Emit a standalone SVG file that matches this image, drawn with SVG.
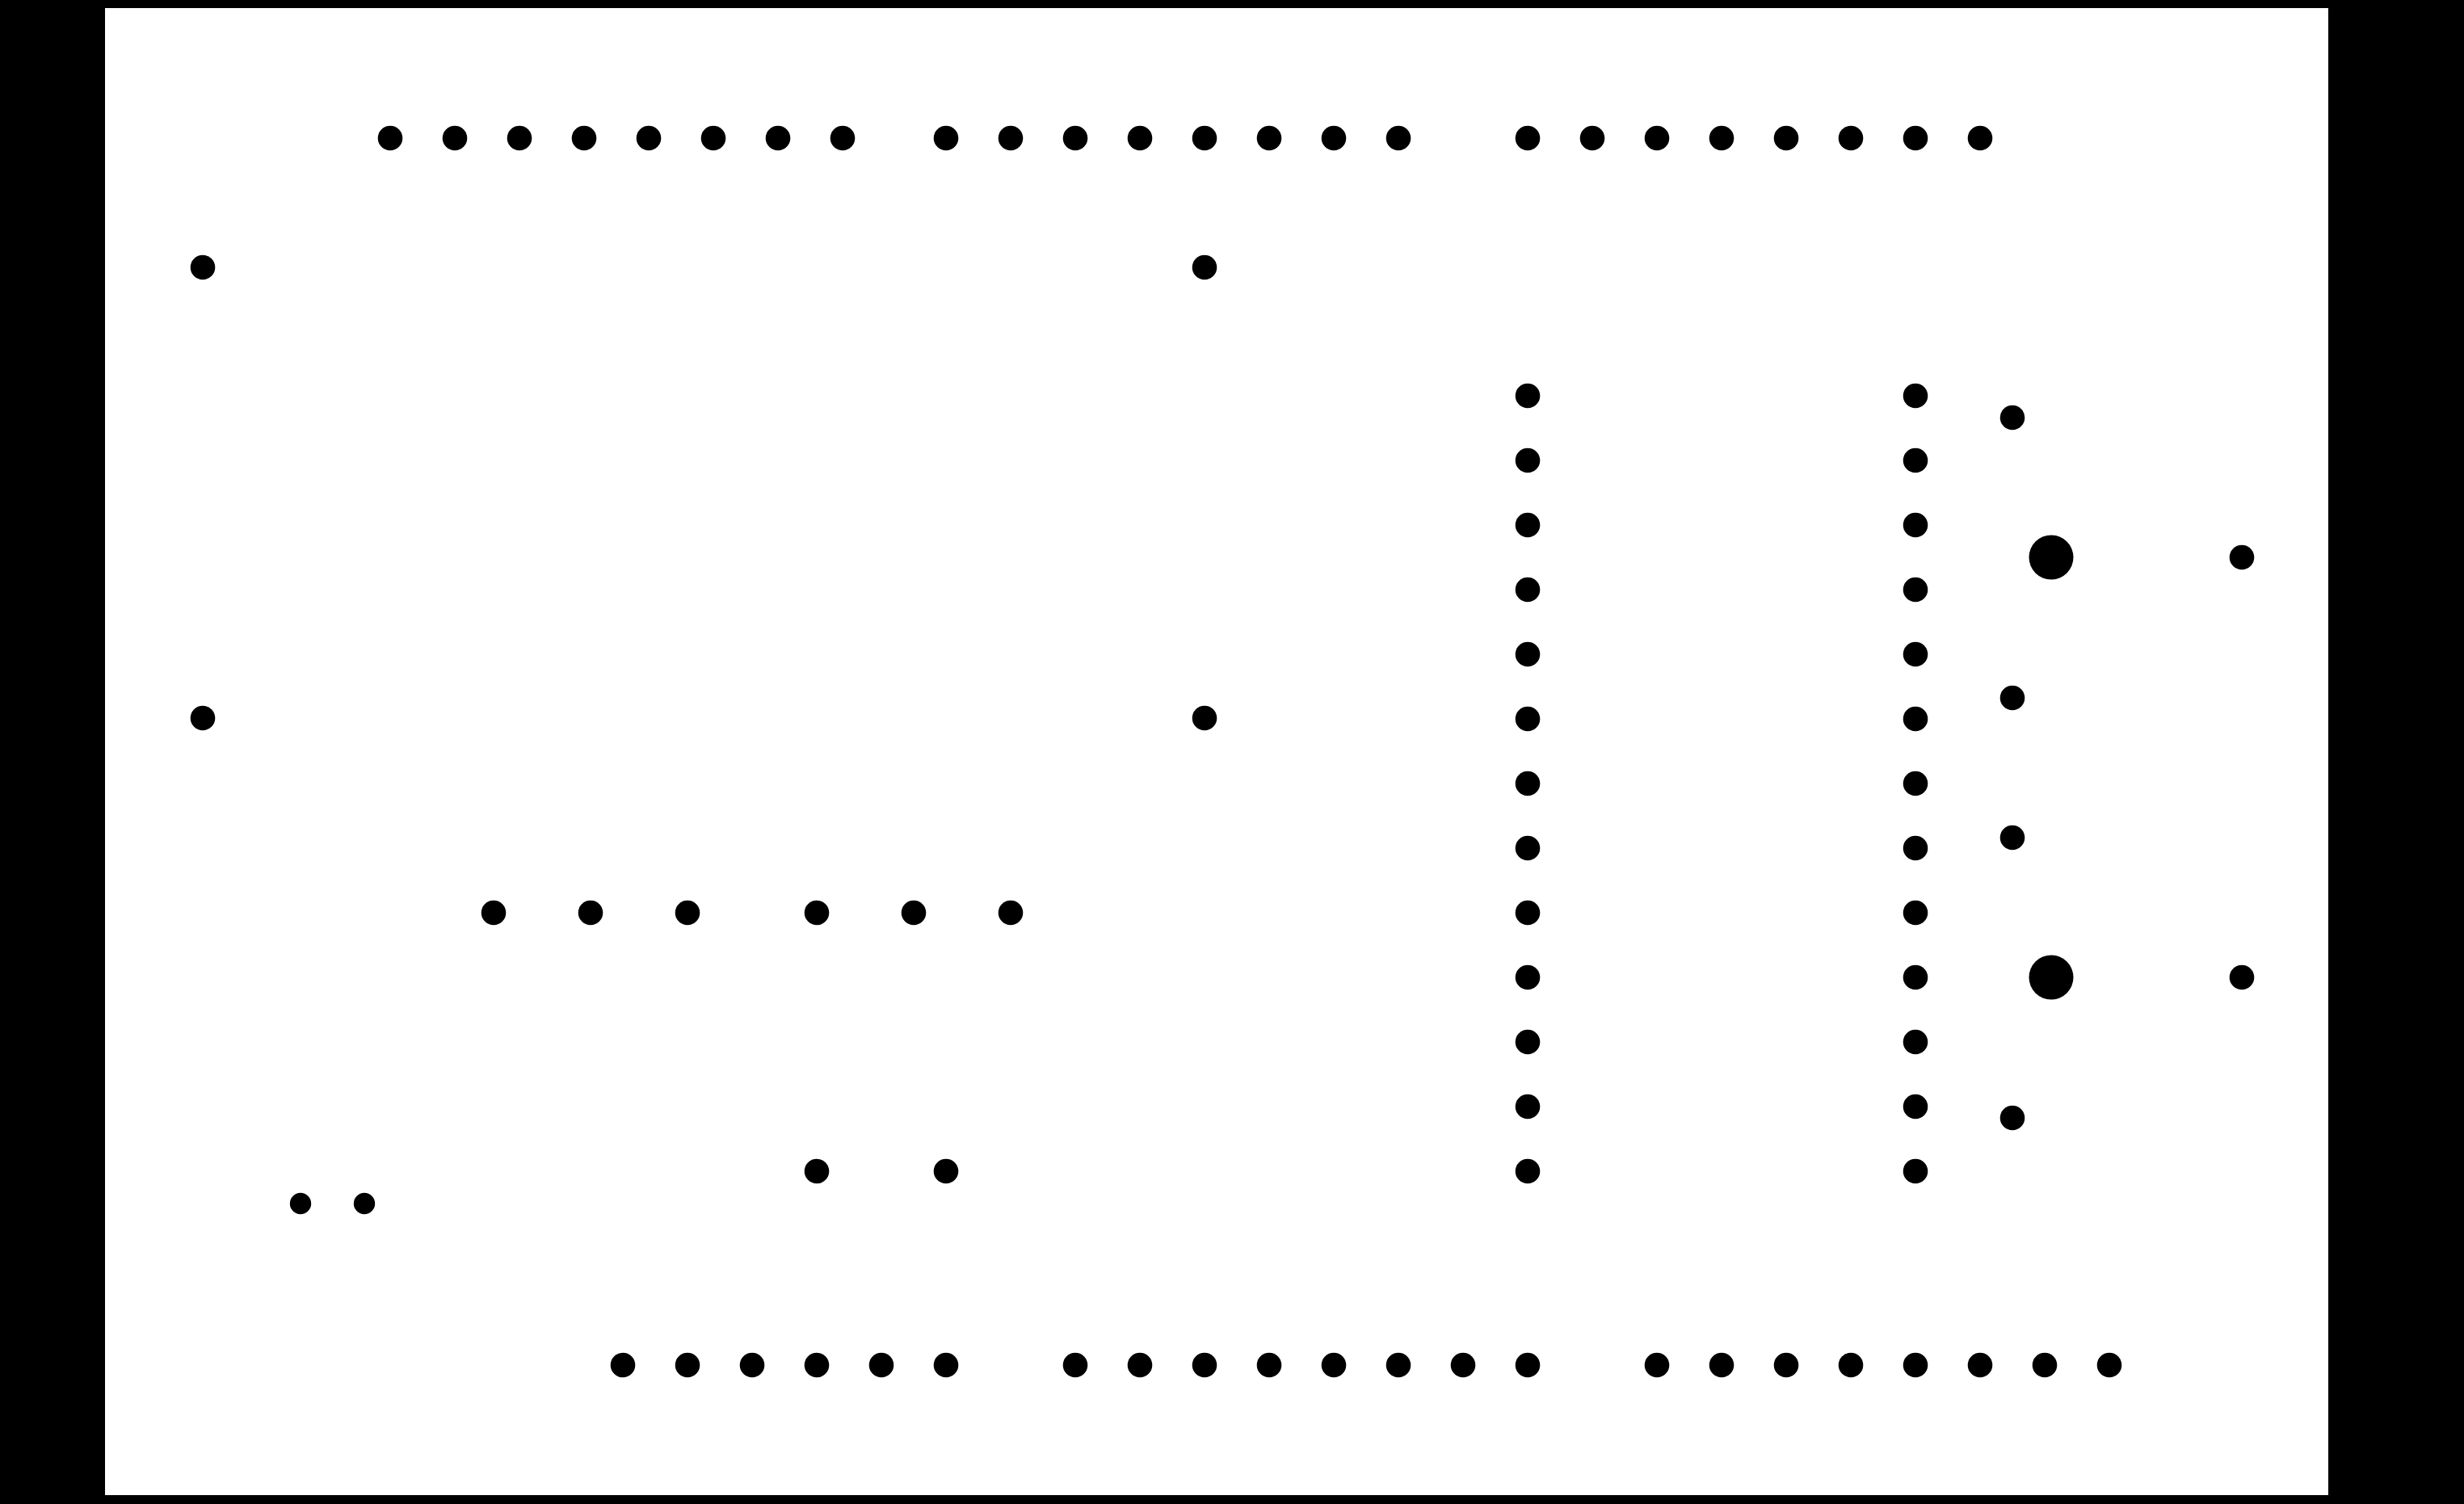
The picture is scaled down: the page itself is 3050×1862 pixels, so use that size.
<svg xmlns="http://www.w3.org/2000/svg" width="3050" height="1862" viewBox="0 0 3050 1862">
<style>
.d{fill:#000}
.s{fill:#000}
.b{fill:#000}
</style>
<defs>
<circle id="dot" r="15.3" class="d"/>
<circle id="sdot" r="13.2" class="s"/>
<circle id="bdot" r="27.5" class="b"/>
</defs>
<rect x="0" y="0" width="3050" height="1862" fill="#000"/>
<rect x="130" y="10" width="2752" height="1841" fill="#fff"/>
<g id="connectors"></g>
<g id="top-row-1">
<use href="#dot" x="483" y="171"/><use href="#dot" x="563" y="171"/><use href="#dot" x="643" y="171"/><use href="#dot" x="723" y="171"/><use href="#dot" x="803" y="171"/><use href="#dot" x="883" y="171"/><use href="#dot" x="963" y="171"/><use href="#dot" x="1043" y="171"/>
</g>
<g id="top-row-2">
<use href="#dot" x="1171" y="171"/><use href="#dot" x="1251" y="171"/><use href="#dot" x="1331" y="171"/><use href="#dot" x="1411" y="171"/><use href="#dot" x="1491" y="171"/><use href="#dot" x="1571" y="171"/><use href="#dot" x="1651" y="171"/><use href="#dot" x="1731" y="171"/>
</g>
<g id="top-row-3">
<use href="#dot" x="1891" y="171"/><use href="#dot" x="1971" y="171"/><use href="#dot" x="2051" y="171"/><use href="#dot" x="2131" y="171"/><use href="#dot" x="2211" y="171"/><use href="#dot" x="2291" y="171"/><use href="#dot" x="2371" y="171"/><use href="#dot" x="2451" y="171"/>
</g>
<g id="corners">
<use href="#dot" x="251" y="331"/><use href="#dot" x="1491" y="331"/><use href="#dot" x="251" y="889"/><use href="#dot" x="1491" y="889"/>
</g>
<g id="middle-row">
<use href="#dot" x="611" y="1130"/><use href="#dot" x="731" y="1130"/><use href="#dot" x="851" y="1130"/><use href="#dot" x="1011" y="1130"/><use href="#dot" x="1131" y="1130"/><use href="#dot" x="1251" y="1130"/>
</g>
<g id="pair-1">
<use href="#dot" x="1011" y="1450"/><use href="#dot" x="1171" y="1450"/>
</g>
<g id="pair-2">
<use href="#sdot" x="372" y="1490"/><use href="#sdot" x="451" y="1490"/>
</g>
<g id="bottom-row-1">
<use href="#dot" x="771" y="1690"/><use href="#dot" x="851" y="1690"/><use href="#dot" x="931" y="1690"/><use href="#dot" x="1011" y="1690"/><use href="#dot" x="1091" y="1690"/><use href="#dot" x="1171" y="1690"/>
</g>
<g id="bottom-row-2">
<use href="#dot" x="1331" y="1690"/><use href="#dot" x="1411" y="1690"/><use href="#dot" x="1491" y="1690"/><use href="#dot" x="1571" y="1690"/><use href="#dot" x="1651" y="1690"/><use href="#dot" x="1731" y="1690"/><use href="#dot" x="1811" y="1690"/><use href="#dot" x="1891" y="1690"/>
</g>
<g id="bottom-row-3">
<use href="#dot" x="2051" y="1690"/><use href="#dot" x="2131" y="1690"/><use href="#dot" x="2211" y="1690"/><use href="#dot" x="2291" y="1690"/><use href="#dot" x="2371" y="1690"/><use href="#dot" x="2451" y="1690"/><use href="#dot" x="2531" y="1690"/><use href="#dot" x="2611" y="1690"/>
</g>
<g id="column-left">
<use href="#dot" x="1891" y="490"/><use href="#dot" x="1891" y="570"/><use href="#dot" x="1891" y="650"/><use href="#dot" x="1891" y="730"/><use href="#dot" x="1891" y="810"/><use href="#dot" x="1891" y="890"/><use href="#dot" x="1891" y="970"/><use href="#dot" x="1891" y="1050"/><use href="#dot" x="1891" y="1130"/><use href="#dot" x="1891" y="1210"/><use href="#dot" x="1891" y="1290"/><use href="#dot" x="1891" y="1370"/><use href="#dot" x="1891" y="1450"/>
</g>
<g id="column-right">
<use href="#dot" x="2371" y="490"/><use href="#dot" x="2371" y="570"/><use href="#dot" x="2371" y="650"/><use href="#dot" x="2371" y="730"/><use href="#dot" x="2371" y="810"/><use href="#dot" x="2371" y="890"/><use href="#dot" x="2371" y="970"/><use href="#dot" x="2371" y="1050"/><use href="#dot" x="2371" y="1130"/><use href="#dot" x="2371" y="1210"/><use href="#dot" x="2371" y="1290"/><use href="#dot" x="2371" y="1370"/><use href="#dot" x="2371" y="1450"/>
</g>
<g id="side-dots">
<use href="#dot" x="2491" y="517"/><use href="#dot" x="2491" y="864"/><use href="#dot" x="2491" y="1037"/><use href="#dot" x="2491" y="1384"/>
</g>
<g id="big-1">
<use href="#bdot" x="2539" y="690"/><use href="#dot" x="2775" y="690"/>
</g>
<g id="big-2">
<use href="#bdot" x="2539" y="1210"/><use href="#dot" x="2775" y="1210"/>
</g>
</svg>
